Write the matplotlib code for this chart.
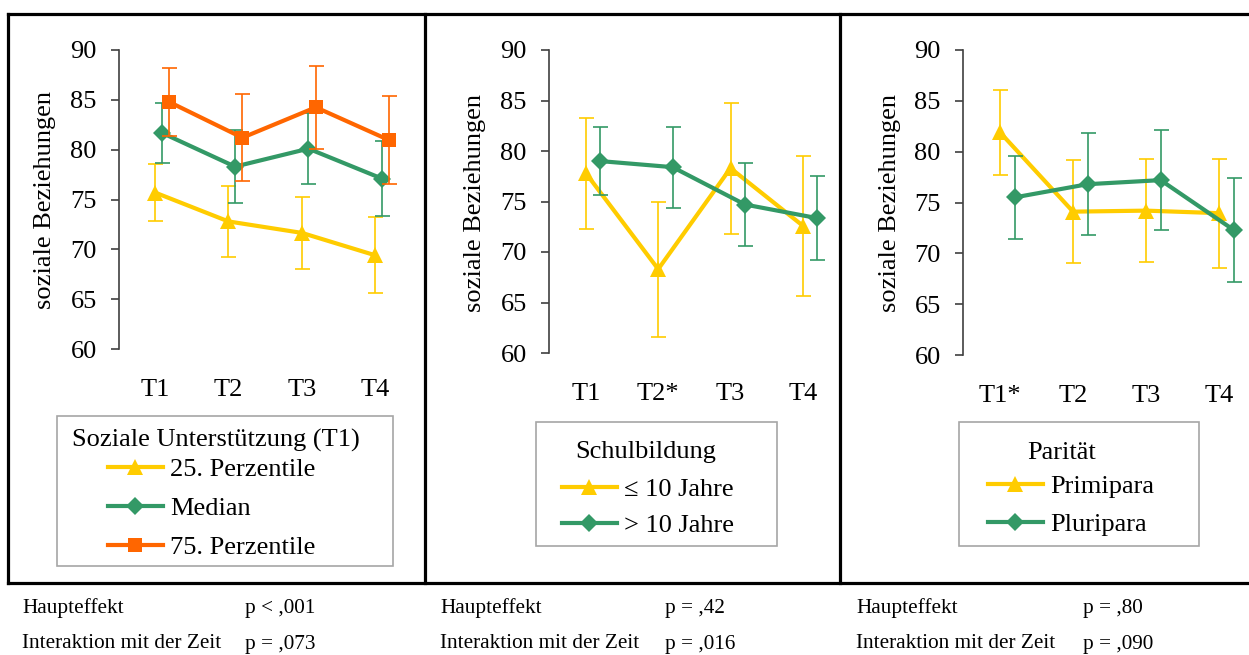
import matplotlib
matplotlib.use("Agg")
import matplotlib.pyplot as plt
from matplotlib.lines import Line2D
from matplotlib.patches import Rectangle
import numpy as np

plt.rcParams['font.family'] = ['Liberation Serif', 'DejaVu Serif']

W, H = 1249, 655
FS = 19

# ---------------- data ----------------
categories_1 = ["T1", "T2", "T3", "T4"]
categories_2 = ["T1", "T2*", "T3", "T4"]
categories_3 = ["T1*", "T2", "T3", "T4"]

p25_mean = [75.7, 72.8, 71.65, 69.4]
p25_err = [2.9, 3.6, 3.65, 3.8]
median_mean = [81.7, 78.3, 80.1, 77.1]
median_err = [3.0, 3.7, 3.55, 3.8]
p75_mean = [84.8, 81.2, 84.25, 80.95]
p75_err = [3.4, 4.35, 4.15, 4.4]

low_edu_mean = [77.8, 68.3, 78.3, 72.6]
low_edu_err = [5.5, 6.7, 6.5, 6.95]
high_edu_mean = [79.0, 78.4, 74.7, 73.35]
high_edu_err = [3.4, 4.0, 4.1, 4.15]

primi_mean = [81.9, 74.1, 74.2, 73.95]
primi_err = [4.15, 5.05, 5.1, 5.35]
pluri_mean = [75.5, 76.8, 77.2, 72.3]
pluri_err = [4.1, 5.0, 4.9, 5.1]

legend_titles = ["Soziale Unterstützung (T1)", "Schulbildung", "Parität"]
labels_1 = ["25. Perzentile", "Median", "75. Perzentile"]
labels_2 = ["≤ 10 Jahre", "> 10 Jahre"]
labels_3 = ["Primipara", "Pluripara"]
ylabel = "soziale Beziehungen"
yticks = [60, 65, 70, 75, 80, 85, 90]

stats_rows = ["Haupteffekt", "Interaktion mit der Zeit"]
stats_p = [["p < ,001", "p = ,073"], ["p = ,42", "p = ,016"], ["p = ,80", "p = ,090"]]

YEL, GRN, ORG = "#FFCC00", "#339966", "#FF6600"

fig = plt.figure(figsize=(W / 100, H / 100), dpi=100)


def px_axes(x0, x1, ytop, ybot):
    return fig.add_axes([x0 / W, 1 - ybot / H, (x1 - x0) / W, (ybot - ytop) / H])


def style(ax, cats, xlim):
    ax.set_ylim(60, 90)
    ax.set_xlim(*xlim)
    ax.set_yticks(yticks)
    ax.set_xticks(range(len(cats)))
    ax.set_xticklabels(cats)
    for s in ["top", "right", "bottom"]:
        ax.spines[s].set_visible(False)
    ax.spines["left"].set_color("#404040")
    ax.spines["left"].set_linewidth(1.2)
    ax.tick_params(axis="y", length=6, width=1.2, color="#404040", pad=10, labelsize=FS)
    ax.tick_params(axis="x", length=0, pad=21.5, labelsize=FS)
    ax.patch.set_alpha(0)


def series(ax, mean, err, offset, color, marker, ms, label, z):
    x = np.arange(len(mean)) + offset
    ax.errorbar(x, mean, yerr=err, fmt="none", ecolor=color, elinewidth=1.2,
                capsize=5.4, capthick=1.2, zorder=z)
    ln, = ax.plot(x, mean, color=color, lw=3, marker=marker, ms=ms,
                  markeredgewidth=0, label=label, zorder=z + 0.5)
    return ln


# ---------------- panel 1 ----------------
ax1 = px_axes(119, 412, 50, 349)
style(ax1, categories_1, (-0.49, 3.5))
h1 = [series(ax1, p25_mean, p25_err, 0.0, YEL, "^", 12, labels_1[0], 2),
      series(ax1, median_mean, median_err, 0.09, GRN, "D", 9, labels_1[1], 3),
      series(ax1, p75_mean, p75_err, 0.19, ORG, "s", 10, labels_1[2], 4)]

# ---------------- panel 2 ----------------
ax2 = px_axes(549, 839, 50, 353)
style(ax2, categories_2, (-0.51, 3.5))
h2 = [series(ax2, low_edu_mean, low_edu_err, 0.0, YEL, "^", 12, labels_2[0], 2),
      series(ax2, high_edu_mean, high_edu_err, 0.2, GRN, "D", 9, labels_2[1], 3)]

# ---------------- panel 3 ----------------
ax3 = px_axes(963, 1249, 50, 355)
style(ax3, categories_3, (-0.507, 3.41))
h3 = [series(ax3, primi_mean, primi_err, 0.0, YEL, "^", 12, labels_3[0], 2),
      series(ax3, pluri_mean, pluri_err, 0.2, GRN, "D", 9, labels_3[1], 3)]

# y labels
for xc, yc in [(45, 200), (475, 203), (890, 203)]:
    fig.text(xc / W, 1 - yc / H, ylabel, rotation=90, ha="center", va="center", fontsize=FS)

# legends: frame box, title, entries
legend_specs = [
    # handles, title, box (x0, x1, y0, y1), title centre, handle x, first entry y, labelspacing
    (h1, legend_titles[0], (57, 393, 416, 566), (216, 440), 108, 469, 0.59),
    (h2, legend_titles[1], (536, 777, 422, 546), (646, 452), 562, 489, 0.48),
    (h3, legend_titles[2], (959, 1199, 422, 546), (1062, 453), 988, 486, 0.55),
]
for handles, title, (bx0, bx1, by0, by1), (tx, ty), hx, ey, ls in legend_specs:
    fig.add_artist(Rectangle((bx0 / W, 1 - by1 / H), (bx1 - bx0) / W, (by1 - by0) / H,
                             transform=fig.transFigure, facecolor="white",
                             edgecolor="#A6A6A6", lw=1.2, zorder=1))
    fig.text(tx / W, 1 - ty / H, title, ha="center", va="center", fontsize=FS, zorder=3)
    leg = fig.legend(handles=handles, loc="upper left",
                     bbox_to_anchor=(hx / W, 1 - (ey - 11.7) / H), bbox_transform=fig.transFigure,
                     fontsize=FS, frameon=False, borderaxespad=0, borderpad=0,
                     handlelength=2.08, handletextpad=0.27, labelspacing=ls, numpoints=1)
    leg.set_zorder(3)

# frame lines
fl = dict(color="black", lw=2.3, transform=fig.transFigure, solid_capstyle="projecting")
fig.add_artist(Line2D([8 / W, 1], [1 - 14 / H] * 2, **fl))
fig.add_artist(Line2D([8 / W, 1], [1 - 583 / H] * 2, **fl))
for xv in [8, 425, 840]:
    fig.add_artist(Line2D([xv / W] * 2, [1 - 14 / H, 1 - 583 / H], **fl))

# stats text
for i, (xl, xp) in enumerate([(22, 245), (440, 665), (856, 1083)]):
    for j, yc in enumerate([608, 644]):
        fig.text(xl / W, 1 - yc / H, stats_rows[j], ha="left", va="center", fontsize=15.3)
        fig.text(xp / W, 1 - yc / H, stats_p[i][j], ha="left", va="center", fontsize=15.3)

fig.savefig("out.png", dpi=100)
